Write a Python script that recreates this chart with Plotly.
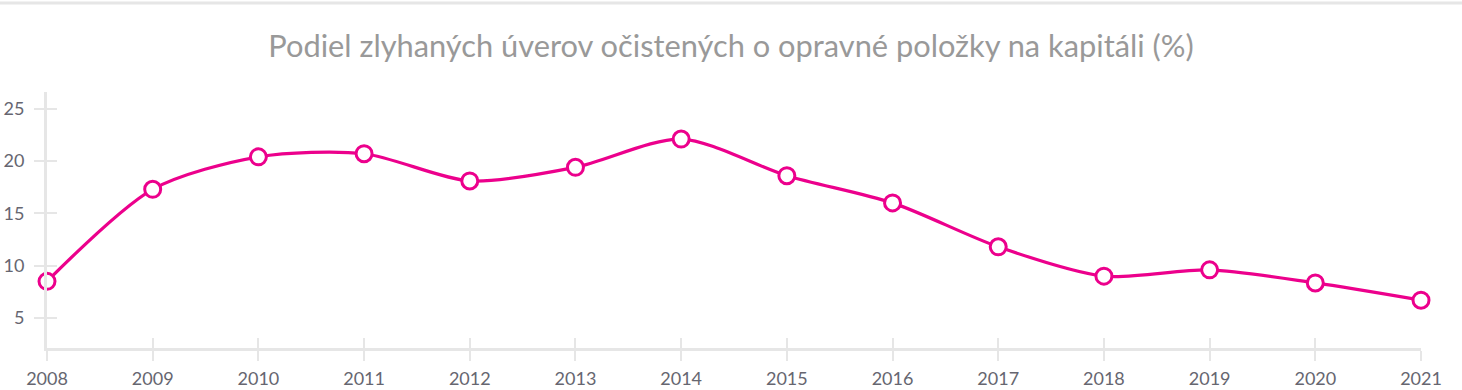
import plotly.graph_objects as go

years = [2008, 2009, 2010, 2011, 2012, 2013, 2014, 2015, 2016, 2017, 2018, 2019, 2020, 2021]
values = [8.5, 17.3, 20.4, 20.7, 18.1, 19.4, 22.1, 18.6, 16.0, 11.8, 9.0, 9.6, 8.35, 6.7]
y_ticks = [5, 10, 15, 20, 25]
title_text = "Podiel zlyhaných úverov očistených o opravné položky na kapitáli (%)"

LINE = "#ec008c"
AXIS = "#e6e6e6"
TXT = "#666670"

x_range = [2008, 2021]
y_range = [2.13, 26.6]

fig = go.Figure()
fig.add_trace(go.Scatter(
    x=years, y=values, mode="lines+markers",
    line=dict(color=LINE, width=3.2, shape="spline", smoothing=0.8),
    marker=dict(size=16, color="white", line=dict(color=LINE, width=3)),
    hoverinfo="x+y", showlegend=False, cliponaxis=False,
))
# invisible trace to carry the inner-tick axes
fig.add_trace(go.Scatter(x=years, y=values, xaxis="x2", yaxis="y2",
                         mode="markers", marker=dict(opacity=0), showlegend=False,
                         hoverinfo="skip"))

fig.update_layout(
    width=1462, height=390,
    margin=dict(l=47, r=41, t=92, b=42, autoexpand=False),
    paper_bgcolor="white", plot_bgcolor="white",
    font=dict(family="Lato, 'Open Sans', sans-serif", color=TXT, size=18),
    title=dict(text=title_text, x=0.5, xanchor="center", y=1 - 46 / 390, yanchor="middle",
               font=dict(size=30.8, color="#999999", family="Lato, sans-serif")),
    xaxis=dict(range=x_range, tickmode="array", tickvals=years, ticktext=[str(y) for y in years],
               showgrid=False, zeroline=False, showline=True, linecolor=AXIS, linewidth=3,
               ticks="outside", ticklen=10, tickwidth=2, tickcolor=AXIS, automargin=False,
               ticklabelstandoff=2, tickfont=dict(size=18, color=TXT)),
    yaxis=dict(range=y_range, tickmode="array", tickvals=y_ticks,
               showgrid=False, zeroline=False, showline=True, linecolor=AXIS, linewidth=3,
               ticks="outside", ticklen=10, tickwidth=2, tickcolor=AXIS, automargin=False,
               ticklabelstandoff=6, tickfont=dict(size=18, color=TXT)),
    xaxis2=dict(overlaying="x", range=x_range, tickmode="array", tickvals=years,
                showticklabels=False, showgrid=False, zeroline=False, showline=False,
                ticks="inside", ticklen=10, tickwidth=2, tickcolor=AXIS, side="bottom",
                automargin=False),
    yaxis2=dict(overlaying="y", range=y_range, tickmode="array", tickvals=y_ticks,
                showticklabels=False, showgrid=False, zeroline=False, showline=False,
                ticks="inside", ticklen=10, tickwidth=2, tickcolor=AXIS, side="left",
                automargin=False),
    shapes=[dict(type="line", xref="paper", yref="paper", layer="above",
                 x0=-47 / 1374, x1=1 + 41 / 1374, y0=1 + 89 / 256, y1=1 + 89 / 256,
                 line=dict(color=AXIS, width=3))],
)

fig.write_html("out.html", config={"displayModeBar": False},
               post_script="document.body.style.margin='0';")
